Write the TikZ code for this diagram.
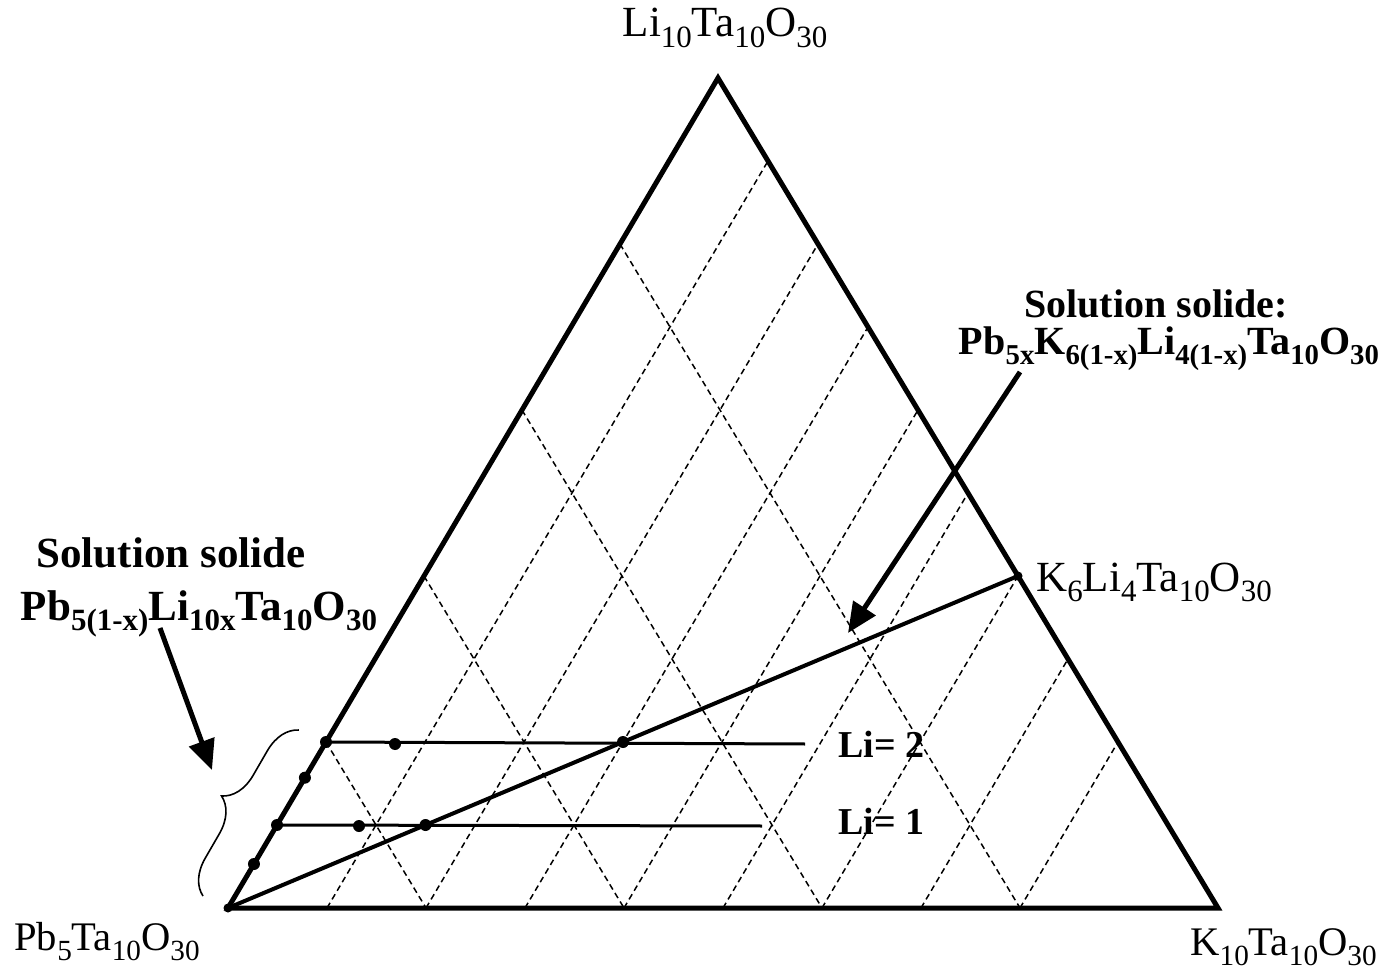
\documentclass[tikz,border=0pt]{standalone}
\usepackage{fontspec}
\setmainfont{Liberation Serif}
\usetikzlibrary{arrows.meta, calc, decorations.pathreplacing}
\makeatletter
\newcommand{\ix}[1]{\raisebox{-0.25em}{\fontsize{\fpeval{0.72*\f@size}}{1}\selectfont #1}}
\makeatother
\tikzset{
  side/.style={line width=2.5pt, line join=miter},
  gridline/.style={line width=0.75pt, dash pattern=on 3pt off 2pt},
  tieline/.style={line width=2pt},
  liline/.style={line width=1.5pt},
  pointer/.style={-{Triangle[length=15pt,width=13pt]}, line width=2.5pt},
  phase/.style={circle, fill, inner sep=0pt, minimum size=6pt},
  small phase/.style={circle, fill, inner sep=0pt, minimum size=4.5pt},
  lab/.style={font=\fontsize{21.5}{24}\selectfont, inner sep=0pt},
  corner/.style={font=\fontsize{20.3}{24}\selectfont, inner sep=0pt},
  blab/.style={font=\fontsize{21.5}{24}\selectfont\bfseries, inner sep=0pt},
  rlab/.style={font=\fontsize{20}{24}\selectfont\bfseries, inner sep=0pt},
  lilab/.style={font=\fontsize{19}{24}\selectfont\bfseries, inner sep=0pt},
}
\begin{document}
\begin{tikzpicture}[x=0.5pt, y=-0.5pt]
    \useasboundingbox (0,0) rectangle (1388,973);
    % corners of the diagram
    \coordinate (pb) at (228,908);
    \coordinate (kt) at (1218,908);
    \coordinate (li) at (718,78);
    \coordinate (k6) at ($(kt)!0.4!(li)$);
    % dashed grid
    \foreach \k in {1,...,8}
      \draw[gridline] ($(pb)!\k/10!(kt)$) -- ($(li)!\k/10!(kt)$);
    \foreach \k in {2,4,6,8}
      \draw[gridline] ($(pb)!\k/10!(li)$) -- ($(pb)!\k/10!(kt)$);
    \draw[side] (pb) -- (kt) -- (li) -- cycle;
    % Li = 2 and Li = 1 lines
    \coordinate (e2) at (805,744);
    \coordinate (e1) at (762,826);
    \node[phase] (a2) at ($(pb)!0.2!(li)$) {};
    \node[phase] (a1) at ($(pb)!0.1!(li)$) {};
    \draw[liline] (a2.center) -- (e2);
    \draw[liline] (a1.center) -- (e1);
    \draw[tieline] (pb) -- (k6);
    \node[phase] (b2) at (395,744) {};
    \node[phase] (c2) at ($(pb)!0.5!(k6)$) {};
    \node[phase] (b1) at (359,826) {};
    \node[phase] (c1) at ($(pb)!0.25!(k6)$) {};
    \node[phase] (s1) at ($(pb)!0.053!(li)$) {};
    \node[phase] (s2) at ($(pb)!0.157!(li)$) {};
    \node[small phase] (p0) at (pb) {};
    \node[small phase] (p6) at (k6) {};
    % brace and arrows
    \coordinate (br1) at (203,896);
    \coordinate (br2) at (299,730);
    \draw[line width=0.8pt, decorate, decoration={brace, amplitude=17pt}] (br1) -- (br2);
    \node[blab, anchor=base] (ssl) at (171,567) {Solution solide};
    \node[blab, anchor=base] (fl) at (199,620) {Pb\ix{5(1-x)}Li\ix{10x}Ta\ix{10}O\ix{30}};
    \node[rlab, anchor=base] (ssr) at (1156,318) {Solution solide:};
    \node[rlab, anchor=base] (fr) at (1169,355) {Pb\ix{5x}K\ix{6(1-x)}Li\ix{4(1-x)}Ta\ix{10}O\ix{30}};
    \coordinate (ql) at (160,628);
    \coordinate (tl) at (212,770);
    \coordinate (qr) at (1020,372);
    \coordinate (tr) at (848,633);
    \draw[pointer] (ql) -- (tl);
    \draw[pointer] (qr) -- (tr);
    % labels
    \node[lab, anchor=base] (nli) at (725,37) {Li\ix{10}Ta\ix{10}O\ix{30}};
    \node[corner, anchor=base west] (npb) at (14,950) {Pb\ix{5}Ta\ix{10}O\ix{30}};
    \node[corner, anchor=base west] (nkt) at (1190,955) {K\ix{10}Ta\ix{10}O\ix{30}};
    \node[lab, anchor=base west] (nk6) at (1036,591) {K\ix{6}Li\ix{4}Ta\ix{10}O\ix{30}};
    \node[lilab, anchor=base west] (l2) at (838,757) {Li= 2};
    \node[lilab, anchor=base west] (l1) at (838,834) {Li= 1};
\end{tikzpicture}
\end{document}
